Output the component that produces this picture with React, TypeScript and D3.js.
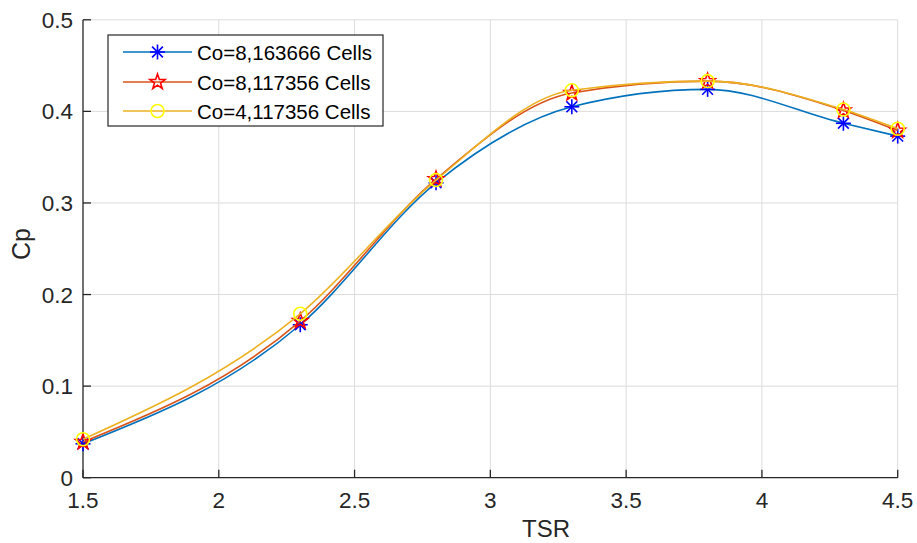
import React from "react";
import * as d3 from "d3";

const tsr = [1.5, 2.3, 2.8, 3.3, 3.8, 4.3, 4.5];
const cpCo8Fine = [0.037, 0.167, 0.322, 0.405, 0.424, 0.387, 0.373];
const cpCo8Coarse = [0.039, 0.171, 0.326, 0.420, 0.433, 0.401, 0.379];
const cpCo4Coarse = [0.042, 0.179, 0.325, 0.423, 0.433, 0.402, 0.381];
const seriesNames = ["Co=8,163666 Cells", "Co=8,117356 Cells", "Co=4,117356 Cells"];
const xTicks = [1.5, 2, 2.5, 3, 3.5, 4, 4.5];
const yTicks = [0, 0.1, 0.2, 0.3, 0.4, 0.5];

const W = 917;
const H = 543;
const FONT = "'Liberation Sans', Arial, Helvetica, sans-serif";
const TXT = "#262626";

const lineColors = ["#0072BD", "#D95319", "#EDB120"];
const markerColors = ["#0000FF", "#FF0000", "#FFFF00"];
const markerTypes = ["asterisk", "star", "circle"];

function starPath(cx: number, cy: number, r: number) {
  const ri = r * 0.4;
  const pts: string[] = [];
  for (let i = 0; i < 10; i++) {
    const rr = i % 2 === 0 ? r : ri;
    const a = -Math.PI / 2 + (i * Math.PI) / 5;
    pts.push(`${cx + rr * Math.cos(a)},${cy + rr * Math.sin(a)}`);
  }
  return "M" + pts.join("L") + "Z";
}

function Marker({ type, x, y, color }: { type: string; x: number; y: number; color: string }) {
  if (type === "asterisk") {
    const r = 7.5;
    const d = r * 0.72;
    return (
      <g stroke={color} strokeWidth={1.6}>
        <line x1={x - r} y1={y} x2={x + r} y2={y} />
        <line x1={x} y1={y - r} x2={x} y2={y + r} />
        <line x1={x - d} y1={y - d} x2={x + d} y2={y + d} />
        <line x1={x - d} y1={y + d} x2={x + d} y2={y - d} />
      </g>
    );
  }
  if (type === "star") {
    return <path d={starPath(x, y, 8)} fill="none" stroke={color} strokeWidth={1.6} />;
  }
  return <circle cx={x} cy={y} r={6.5} fill="none" stroke={color} strokeWidth={1.6} />;
}

export default function App() {
  const x = d3.scaleLinear().domain([1.5, 4.5]).range([83, 897.7]);
  const y = d3.scaleLinear().domain([0, 0.5]).range([477.7, 19.8]);
  const all = [cpCo8Fine, cpCo8Coarse, cpCo4Coarse];
  const line = d3
    .line<number>()
    .x((_, i) => x(tsr[i]))
    .y((d) => y(d))
    .curve(d3.curveMonotoneX);

  const x0 = x(1.5);
  const x1 = x(4.5);
  const y0 = y(0);
  const y1 = y(0.5);

  const legX = 108, legY = 35, legW = 275, legH = 91;
  const rowsY = [52, 82, 111];

  return (
    <svg width={W} height={H} style={{ position: "absolute", left: 0, top: 0, background: "#fff" }}>
      <rect x={0} y={0} width={W} height={H} fill="#fff" />
      {/* grid */}
      <g stroke="#dcdcdc" strokeWidth={1}>
        {xTicks.slice(1).map((t) => (
          <line key={"gx" + t} x1={x(t)} x2={x(t)} y1={y0} y2={y1} />
        ))}
        {yTicks.slice(1).map((t) => (
          <line key={"gy" + t} x1={x0} x2={x1} y1={y(t)} y2={y(t)} />
        ))}
      </g>
      {/* axes */}
      <g stroke={TXT} strokeWidth={1.3}>
        <line x1={x0} x2={x1} y1={y0} y2={y0} />
        <line x1={x0} x2={x0} y1={y0} y2={y1} />
        {xTicks.map((t) => (
          <line key={"tx" + t} x1={x(t)} x2={x(t)} y1={y0} y2={y0 - 8} />
        ))}
        {yTicks.map((t) => (
          <line key={"ty" + t} x1={x0} x2={x0 + 8} y1={y(t)} y2={y(t)} />
        ))}
      </g>
      {/* tick labels */}
      <g fontFamily={FONT} fontSize={22.5} fill={TXT}>
        {xTicks.map((t) => (
          <text key={"lx" + t} x={x(t)} y={y0 + 30.6} textAnchor="middle">
            {String(t)}
          </text>
        ))}
        {yTicks.map((t) => (
          <text key={"ly" + t} x={x0 - 10} y={y(t) + 8} textAnchor="end">
            {String(t)}
          </text>
        ))}
      </g>
      <text x={546} y={537} textAnchor="middle" fontFamily={FONT} fontSize={24} fill={TXT}>
        TSR
      </text>
      <text
        transform={`translate(30,244) rotate(-90)`}
        textAnchor="middle"
        fontFamily={FONT}
        fontSize={25}
        fill={TXT}
      >
        Cp
      </text>
      {/* series */}
      {all.map((vals, si) => (
        <g key={"s" + si}>
          <path d={line(vals) || ""} fill="none" stroke={lineColors[si]} strokeWidth={1.6} />
          {vals.map((v, i) => (
            <Marker key={i} type={markerTypes[si]} x={x(tsr[i])} y={y(v)} color={markerColors[si]} />
          ))}
        </g>
      ))}
      {/* legend */}
      <rect x={legX} y={legY} width={legW} height={legH} fill="#fff" stroke={TXT} strokeWidth={1.2} />
      {seriesNames.map((name, i) => (
        <g key={"lg" + i}>
          <line x1={123} x2={192} y1={rowsY[i]} y2={rowsY[i]} stroke={lineColors[i]} strokeWidth={1.6} />
          <Marker type={markerTypes[i]} x={157.5} y={rowsY[i]} color={markerColors[i]} />
          <text x={197} y={rowsY[i] + 7.5} fontFamily={FONT} fontSize={20.5} fill="#000">
            {name}
          </text>
        </g>
      ))}
    </svg>
  );
}
